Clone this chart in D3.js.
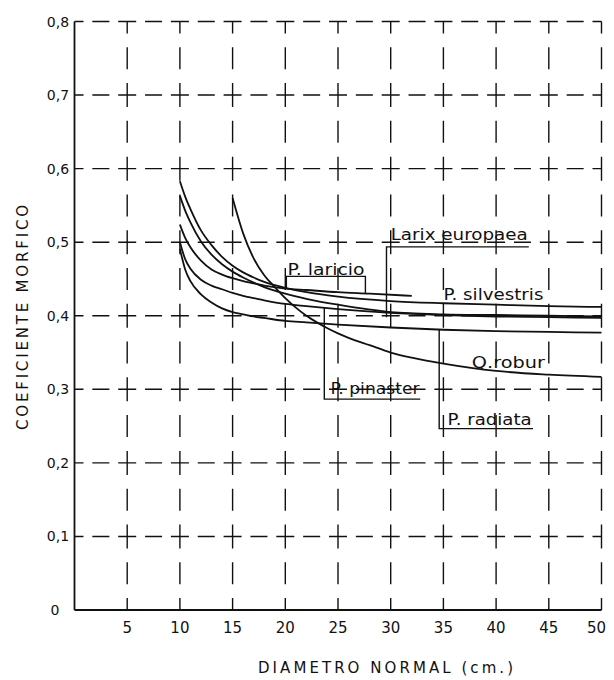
<!DOCTYPE html>
<html>
<head>
<meta charset="utf-8">
<script src="https://cdn.jsdelivr.net/npm/d3@7"></script>
<style>
  html, body { margin: 0; padding: 0; background: #fff; }
  svg { display: block; }
  text { font-family: "DejaVu Sans", "Liberation Sans", sans-serif; fill: #111; }
</style>
</head>
<body>
<svg id="chart" width="614" height="680"></svg>
<script>
// ---------- data ----------
const xTicks = [5, 10, 15, 20, 25, 30, 35, 40, 45, 50];
const yTicks = [0, 0.1, 0.2, 0.3, 0.4, 0.5, 0.6, 0.7, 0.8];
const yTickLabels = ["0", "0,1", "0,2", "0,3", "0,4", "0,5", "0,6", "0,7", "0,8"];

const diam = [10, 10.5, 11, 12, 13, 14, 15, 16, 17, 18, 20, 22, 25, 30, 35, 40, 45, 50];
const silvestris = [0.583, 0.562, 0.545, 0.516, 0.496, 0.480, 0.468, 0.459, 0.452, 0.446, 0.438, 0.432, 0.426, 0.420, 0.417, 0.415, 0.413, 0.412];
const larix      = [0.563, 0.543, 0.527, 0.501, 0.483, 0.470, 0.460, 0.452, 0.445, 0.439, 0.430, 0.423, 0.415, 0.405, 0.402, 0.401, 0.400, 0.399];
const pinaster   = [0.500, 0.477, 0.464, 0.449, 0.441, 0.436, 0.431, 0.427, 0.424, 0.421, 0.416, 0.413, 0.409, 0.404, 0.401, 0.399, 0.398, 0.397];
const radiata    = [0.491, 0.463, 0.447, 0.429, 0.418, 0.410, 0.405, 0.402, 0.399, 0.397, 0.393, 0.391, 0.388, 0.384, 0.381, 0.379, 0.378, 0.377];

const diamLaricio = [10, 10.5, 11, 12, 13, 14, 15, 16, 17, 18, 20, 22, 25, 28, 32];
const laricio     = [0.524, 0.506, 0.493, 0.475, 0.463, 0.456, 0.451, 0.447, 0.444, 0.441, 0.437, 0.435, 0.432, 0.430, 0.427];

const diamRobur = [15, 16, 17, 18, 19, 20, 21, 22, 23, 24, 25, 26, 28, 30, 32, 35, 40, 45, 50];
const robur     = [0.560, 0.512, 0.478, 0.455, 0.439, 0.424, 0.411, 0.400, 0.391, 0.383, 0.376, 0.370, 0.360, 0.350, 0.343, 0.335, 0.325, 0.320, 0.317];

const labelNames = ["P. laricio", "Larix europaea", "P. silvestris", "Q.robur", "P. pinaster", "P. radiata"];
// text anchor position (data units)
const labelX = [20.2, 30.0, 35.0, 37.7, 24.3, 35.4];
const labelY = [0.456, 0.503, 0.421, 0.329, 0.294, 0.251];
// leader polylines (data units)
const leaders = [
  [[20.1, 0.437], [20.1, 0.4535], [27.6, 0.4535], [27.6, 0.431]],
  [[29.6, 0.398], [29.6, 0.4936], [43.1, 0.4936]],
  [],
  [],
  [[23.7, 0.411], [23.7, 0.2867], [32.8, 0.2867]],
  [[34.6, 0.381], [34.6, 0.2465], [43.5, 0.2465]]
];

// ---------- layout ----------
const svg = d3.select("#chart");
const x = d3.scaleLinear().domain([0, 50]).range([74.5, 601.5]);
const y = d3.scaleLinear().domain([0, 0.8]).range([610, 21.5]);
const ink = "#111";
const labelWidths = [77, 137, 100, 73, 89, 84];

// grid: dashed lines with crosses at intersections
const px5 = x(5) - x(0);
const py1 = y(0) - y(0.1);
const hArm = 9, hMid = 17, hGap = (px5 - 2 * hArm - hMid) / 2;
const vArm = 12, vMid = 22, vGap = (py1 - 2 * vArm - vMid) / 2;

svg.append("g").selectAll("line")
  .data(yTicks.filter(d => d > 0))
  .join("line")
  .attr("x1", x(0)).attr("x2", x(50))
  .attr("y1", d => y(d)).attr("y2", d => y(d))
  .attr("stroke", ink).attr("stroke-width", 1.4)
  .attr("stroke-dasharray", `${2 * hArm} ${hGap} ${hMid} ${hGap}`)
  .attr("stroke-dashoffset", hArm);

svg.append("g").selectAll("line")
  .data(xTicks)
  .join("line")
  .attr("x1", d => x(d)).attr("x2", d => x(d))
  .attr("y1", y(0)).attr("y2", y(0.8))
  .attr("stroke", ink).attr("stroke-width", 1.4)
  .attr("stroke-dasharray", `${2 * vArm} ${vGap} ${vMid} ${vGap}`)
  .attr("stroke-dashoffset", vArm);

// axes lines
svg.append("line").attr("x1", x(0)).attr("x2", x(0)).attr("y1", y(0)).attr("y2", y(0.8))
  .attr("stroke", ink).attr("stroke-width", 1.8);
svg.append("line").attr("x1", x(0)).attr("x2", x(50)).attr("y1", y(0)).attr("y2", y(0))
  .attr("stroke", ink).attr("stroke-width", 1.8);

// tick labels
svg.append("g").selectAll("text")
  .data(xTicks)
  .join("text")
  .attr("x", d => x(d) - (d === 50 ? 5 : 0))
  .attr("y", 633)
  .attr("text-anchor", "middle")
  .attr("font-size", 15)
  .text(d => d);

svg.append("g").selectAll("text")
  .data(yTicks)
  .join("text")
  .attr("x", d => d === 0 ? 55 : 58)
  .attr("y", d => y(d) + 5)
  .attr("text-anchor", "middle")
  .attr("font-size", 14)
  .text((d, i) => yTickLabels[i]);

// axis titles
svg.append("text")
  .attr("x", 258).attr("y", 673)
  .attr("font-size", 15)
  .attr("textLength", 255).attr("lengthAdjust", "spacing")
  .text("DIAMETRO NORMAL (cm.)");

svg.append("text")
  .attr("transform", "translate(28,430) rotate(-90)")
  .attr("font-size", 15)
  .attr("textLength", 225).attr("lengthAdjust", "spacing")
  .text("COEFICIENTE MORFICO");

// curves
const line = d3.line().x(d => x(d[0])).y(d => y(d[1])).curve(d3.curveMonotoneX);
const series = [
  [diam, silvestris], [diam, larix], [diam, pinaster], [diam, radiata],
  [diamLaricio, laricio], [diamRobur, robur]
];
svg.append("g").selectAll("path")
  .data(series)
  .join("path")
  .attr("d", s => line(s[0].map((d, i) => [d, s[1][i]])))
  .attr("fill", "none")
  .attr("stroke", ink)
  .attr("stroke-width", 1.8);

// leaders
const leaderLine = d3.line().x(d => x(d[0])).y(d => y(d[1]));
svg.append("g").selectAll("path")
  .data(leaders.filter(l => l.length))
  .join("path")
  .attr("d", leaderLine)
  .attr("fill", "none")
  .attr("stroke", ink)
  .attr("stroke-width", 1.4);

// labels
svg.append("g").selectAll("text")
  .data(labelNames)
  .join("text")
  .attr("x", (d, i) => x(labelX[i]))
  .attr("y", (d, i) => y(labelY[i]))
  .attr("font-size", 16)
  .attr("textLength", (d, i) => labelWidths[i])
  .attr("lengthAdjust", "spacingAndGlyphs")
  .text(d => d);
</script>
</body>
</html>
